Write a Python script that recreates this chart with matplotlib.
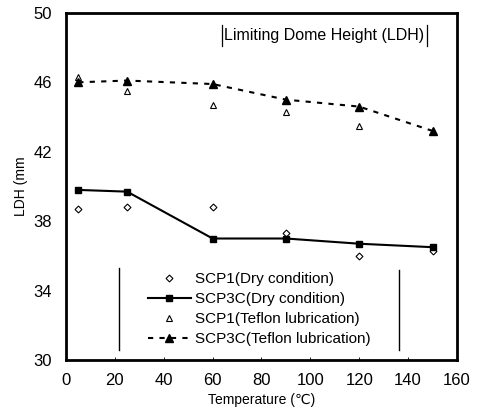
import matplotlib
matplotlib.use("Agg")
import matplotlib.pyplot as plt
from matplotlib.lines import Line2D

plt.rcParams['font.family'] = ['Liberation Sans', 'DejaVu Sans']

temps = [5, 25, 60, 90, 120, 150]
scp1_dry = [38.7, 38.8, 38.8, 37.3, 36.0, 36.3]
scp3c_dry = [39.8, 39.7, 37.0, 37.0, 36.7, 36.5]
scp1_teflon = [46.3, 45.5, 44.7, 44.3, 43.5, 43.2]
scp3c_teflon = [46.0, 46.1, 45.9, 45.0, 44.6, 43.2]

labels = ["SCP1(Dry condition)", "SCP3C(Dry condition)",
          "SCP1(Teflon lubrication)", "SCP3C(Teflon lubrication)"]
xticks = [0, 20, 40, 60, 80, 100, 120, 140, 160]
yticks = [30, 34, 38, 42, 46, 50]

fig = plt.figure(figsize=(4.82, 4.15), dpi=100)
ax = fig.add_axes([0.137, 0.1325, 0.811, 0.8365])

ax.plot(temps, scp1_dry, linestyle='none', marker='D', markersize=3.5,
        markerfacecolor='white', markeredgecolor='black', markeredgewidth=0.8, label=labels[0])
ax.plot(temps, scp3c_dry, color='black', linewidth=1.5, marker='s', markersize=5,
        markerfacecolor='black', label=labels[1])
ax.plot(temps, scp1_teflon, linestyle='none', marker='^', markersize=5,
        markerfacecolor='white', markeredgecolor='black', markeredgewidth=0.8, label=labels[2])
ax.plot(temps, scp3c_teflon, color='black', linewidth=1.5, linestyle=(0, (2.5, 3)),
        marker='^', markersize=5.5, markerfacecolor='black', label=labels[3])

ax.set_xlim(0, 160)
ax.set_ylim(30, 50)
ax.set_xticks(xticks)
ax.set_yticks(yticks)
ax.tick_params(axis='both', labelsize=12, direction='in', length=2, width=0.6, pad=9)
ax.tick_params(axis='y', length=0, pad=10)
for s in ax.spines.values():
    s.set_linewidth(2)

ax.set_xlabel("Temperature (℃)", fontsize=10, labelpad=4)
ax.set_ylabel("LDH (mm", fontsize=10, labelpad=4)

leg = ax.legend(loc='lower center', bbox_to_anchor=(0.494, 0.0), frameon=False,
                fontsize=11, handlelength=2.8, handletextpad=0.25, labelspacing=0.4)

# Bracket lines around legend
ax.add_line(Line2D([0.135, 0.135], [0.03, 0.265], transform=ax.transAxes, color='black', linewidth=1))
ax.add_line(Line2D([0.852, 0.852], [0.03, 0.26], transform=ax.transAxes, color='black', linewidth=1))

# Title with bracket bars
ax.text(0.659, 0.935, "Limiting Dome Height (LDH)", transform=ax.transAxes,
        ha='center', va='center', fontsize=11.5)
ax.add_line(Line2D([0.399, 0.399], [0.905, 0.965], transform=ax.transAxes, color='black', linewidth=0.9))
ax.add_line(Line2D([0.923, 0.923], [0.905, 0.965], transform=ax.transAxes, color='black', linewidth=0.9))

fig.savefig("out.png", dpi=100)
